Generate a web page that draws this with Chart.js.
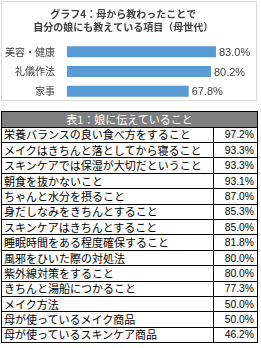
<!DOCTYPE html>
<html lang="ja">
<head>
<meta charset="utf-8">
<script src="https://cdn.jsdelivr.net/npm/chart.js@4.4.1/dist/chart.umd.min.js"></script>
<style>
  html,body{margin:0;padding:0;background:#fff;}
  body{width:261px;height:348px;position:relative;overflow:hidden;font-family:"Noto Sans CJK JP",sans-serif;}
  #frame{position:absolute;left:1px;top:1px;width:254px;height:98px;border:1px solid #d9d9d9;}
  #chart{position:absolute;left:0;top:0;width:257px;height:119px;}
  #tbl{position:absolute;left:1px;top:111px;width:256px;border-collapse:collapse;table-layout:fixed;background:#fff;}
  #tbl td,#tbl th{border:1px solid #000;padding:0;height:14.4px;line-height:13px;white-space:nowrap;overflow:hidden;}
  #tbl th{background:#7f7f7f;color:#fff;font-weight:normal;font-size:11px;height:14.7px;}
  #tbl td.item{font-size:11px;padding-left:2px;color:#000;}
  #tbl td.pct{font-family:"Liberation Sans",Arial,sans-serif;font-size:10.3px;text-align:right;padding-right:3px;color:#000;}
</style>
</head>
<body>
<div id="frame"></div>
<canvas id="chart" width="257" height="119"></canvas>
<table id="tbl">
  <colgroup><col style="width:212px"><col style="width:44px"></colgroup>
  <thead><tr><th colspan="2" id="tblTitle"></th></tr></thead>
  <tbody id="tblBody"></tbody>
</table>
<script>
// ---------------------------
// DATA
// ---------------------------
const TITLE = ["グラフ4：母から教わったことで", "自分の娘にも教えている項目（母世代）"];
const CATEGORIES = ["美容・健康", "礼儀作法", "家事"];
const VALUES = [83.0, 80.2, 67.8];

const TABLE_TITLE = "表1：娘に伝えていること";
const TABLE_ITEMS = [
  "栄養バランスの良い食べ方をすること",
  "メイクはきちんと落としてから寝ること",
  "スキンケアでは保湿が大切だということ",
  "朝食を抜かないこと",
  "ちゃんと水分を摂ること",
  "身だしなみをきちんとすること",
  "スキンケアはきちんとすること",
  "睡眠時間をある程度確保すること",
  "風邪をひいた際の対処法",
  "紫外線対策をすること",
  "きちんと湯船につかること",
  "メイク方法",
  "母が使っているメイク商品",
  "母が使っているスキンケア商品"
];
const TABLE_VALUES = [97.2, 93.3, 93.3, 93.1, 87.0, 85.3, 85.0, 81.8, 80.0, 80.0, 77.3, 50.0, 50.0, 46.2];

// ---------------------------
// TABLE
// ---------------------------
document.getElementById("tblTitle").textContent = TABLE_TITLE;
document.getElementById("tblBody").innerHTML = TABLE_ITEMS.map((t,i)=>
  `<tr><td class="item">${t}</td><td class="pct">${TABLE_VALUES[i].toFixed(1)}%</td></tr>`
).join("");

// ---------------------------
// CHART
// ---------------------------
// value labels at the end of each bar
const valueLabels = {
  id:"valueLabels",
  afterDatasetsDraw(chart){
    const ctx = chart.ctx;
    const meta = chart.getDatasetMeta(0);
    ctx.save();
    ctx.font = '11px "Liberation Sans", Arial, sans-serif';
    ctx.fillStyle = "#404040";
    ctx.textAlign = "left";
    ctx.textBaseline = "middle";
    meta.data.forEach((bar,i)=>{
      ctx.fillText(VALUES[i].toFixed(1) + "%", bar.x + 3, bar.y + 1);
    });
    ctx.restore();
  }
};

new Chart(document.getElementById("chart"), {
  type:"bar",
  data:{
    labels: CATEGORIES,
    datasets:[{
      data: VALUES,
      backgroundColor:"#5b9bd5",
      borderWidth:0,
      categoryPercentage:1,
      barPercentage:0.56
    }]
  },
  options:{
    indexAxis:"y",
    responsive:false,
    animation:false,
    layout:{ padding:{ left:0, right:10.5, top:0, bottom:0 } },
    scales:{
      x:{ display:false, min:0, max:100 },
      y:{
        grid:{ display:false, drawTicks:false },
        border:{ display:false },
        ticks:{ color:"#404040", padding:12, font:{ family:"Noto Sans CJK JP", size:10 } },
        afterFit(scale){ scale.width = 67; }
      }
    },
    plugins:{
      legend:{ display:false },
      tooltip:{ enabled:false },
      title:{
        display:true,
        text: TITLE,
        color:"#404040",
        font:{ family:"Noto Sans CJK JP", size:10, weight:"bold", lineHeight:1.35 },
        padding:{ top:7, bottom:8 }
      }
    }
  },
  plugins:[valueLabels]
});
</script>
</body>
</html>
